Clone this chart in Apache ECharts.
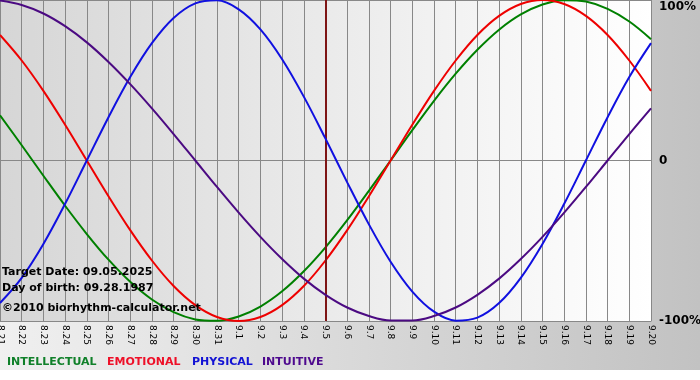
<!DOCTYPE html>
<html>
<head>
<meta charset="utf-8">
<script src="https://cdn.jsdelivr.net/npm/echarts@6/dist/echarts.min.js"></script>
<style>html,body{margin:0;padding:0;background:#fff}#c{width:700px;height:380px}</style>
</head>
<body>
<div id="c"></div>
<script>
var days = ['8.21','8.22','8.23','8.24','8.25','8.26','8.27','8.28','8.29','8.30','8.31',
  '9.1','9.2','9.3','9.4','9.5','9.6','9.7','9.8','9.9','9.10','9.11','9.12','9.13','9.14','9.15','9.16','9.17','9.18','9.19','9.20'];
var targetDay = '9.5';
var intellectual = [28.2, 9.5, -9.5, -28.2, -45.8, -61.8, -75.6, -86.6, -94.5, -99.0, -99.9, -97.2, -91.0, -81.5, -69.0, -54.1, -37.2, -18.9, 0, 18.9, 37.2, 54.1, 69.0, 81.5, 91.0, 97.2, 99.9, 99.0, 94.5, 86.6, 75.6];
var emotional = [78.2, 62.3, 43.4, 22.3, 0, -22.3, -43.4, -62.3, -78.2, -90.1, -97.5, -100, -97.5, -90.1, -78.2, -62.3, -43.4, -22.3, 0, 22.3, 43.4, 62.3, 78.2, 90.1, 97.5, 100, 97.5, 90.1, 78.2, 62.3, 43.4];
var physical = [-88.8, -73.1, -52.0, -27.0, 0, 27.0, 52.0, 73.1, 88.8, 97.9, 99.8, 94.2, 81.7, 63.1, 39.8, 13.6, -13.6, -39.8, -63.1, -81.7, -94.2, -99.8, -97.9, -88.8, -73.1, -52.0, -27.0, 0, 27.0, 52.0, 73.1];
var intuitive = [99.7, 96.9, 91.6, 83.7, 73.6, 61.4, 47.6, 32.5, 16.5, 0, -16.5, -32.5, -47.6, -61.4, -73.6, -83.7, -91.6, -96.9, -99.7, -99.7, -96.9, -91.6, -83.7, -73.6, -61.4, -47.6, -32.5, -16.5, 0, 16.5, 32.5];
var yTicks = {'100':'100%','0':'0','-100':'-100%'};
var infoLines = ['Target Date: 09.05.2025','Day of birth: 09.28.1987','\u00a92010 biorhythm-calculator.net'];
var legendNames = ['INTELLECTUAL','EMOTIONAL','PHYSICAL','INTUITIVE'];

var colors = ['#008000','#ee0000','#1010e0','#4b0a82'];
var legendColors = ['#10802a','#ee1028','#1212d4','#4e0a8e'];
var legendLeft = [7, 107, 192, 262];

var chart = echarts.init(document.getElementById('c'), null, {renderer:'canvas'});
var font = 'DejaVu Sans, Verdana, sans-serif';

function lineSeries(name, data, i) {
  return {
    name: name, type: 'line', data: data, smooth: 0.35, showSymbol: false,
    lineStyle: {color: colors[i], width: 2}, itemStyle: {color: colors[i]},
    z: 3 + i, animation: false
  };
}
var series = [
  lineSeries(legendNames[0], intellectual, 0),
  lineSeries(legendNames[1], emotional, 1),
  lineSeries(legendNames[2], physical, 2),
  lineSeries(legendNames[3], intuitive, 3)
];
series[0].markLine = {
  silent: true, symbol: ['none','none'], label: {show: false},
  lineStyle: {color: '#7e1515', width: 2, type: 'solid'},
  data: [{xAxis: targetDay}], animation: false
};

var infoGraphics = infoLines.map(function(t, i){
  return {type:'text', left: 2, top: [267, 283, 303][i], z: 10,
    style:{text: t, fill:'#000', font:'bold 11px ' + font}};
});
var legendGraphics = legendNames.map(function(n, i){
  return {type:'text', left: legendLeft[i], top: 357, z: 10,
    style:{text: n, fill: legendColors[i], font:'bold 11px ' + font}};
});

chart.setOption({
  animation: false,
  backgroundColor: {type:'linear', x:0, y:0, x2:1, y2:0, colorStops:[{offset:0,color:'#f0f0f0'},{offset:1,color:'#c2c2c2'}]},
  grid: {left: 0, right: 49, top: 0, bottom: 59, show: true, borderWidth: 0, containLabel: false, outerBoundsMode: 'none',
    backgroundColor: {type:'linear', x:0, y:0, x2:1, y2:0, colorStops:[{offset:0,color:'#d6d6d6'},{offset:1,color:'#ffffff'}]}},
  xAxis: {
    type: 'category', data: days, boundaryGap: false,
    axisLine: {show: true, lineStyle: {color: '#888', width: 1}},
    axisTick: {show: true, length: 4, interval: 0, lineStyle: {color: '#888'}},
    splitLine: {show: true, interval: 0, lineStyle: {color: '#888', width: 1}},
    axisLabel: {interval: 0, rotate: -90, margin: 4, color: '#000', fontSize: 9, fontFamily: font, hideOverlap: false}
  },
  yAxis: {
    type: 'value', position: 'right', min: -100, max: 100, interval: 100,
    axisLine: {show: true, lineStyle: {color: '#888'}},
    axisTick: {show: false},
    splitLine: {show: true, lineStyle: {color: '#888', width: 1}},
    axisLabel: {margin: 8, color: '#000', fontSize: 12, fontWeight: 'bold', fontFamily: font,
      formatter: function(v){ var t = yTicks[String(v)]; return v === 100 ? '{top|' + t + '}' : t; },
      rich: {top: {fontSize: 12, fontWeight: 'bold', fontFamily: font, color: '#000', padding: [13,0,0,0]}}
    }
  },
  graphic: [
    {type:'rect', left: 0, top: 370, shape:{width:700, height:10}, style:{fill:'#ffffff'}, z: 0, silent: true}
  ].concat(legendGraphics).concat(infoGraphics),
  series: series
});
</script>
</body>
</html>
